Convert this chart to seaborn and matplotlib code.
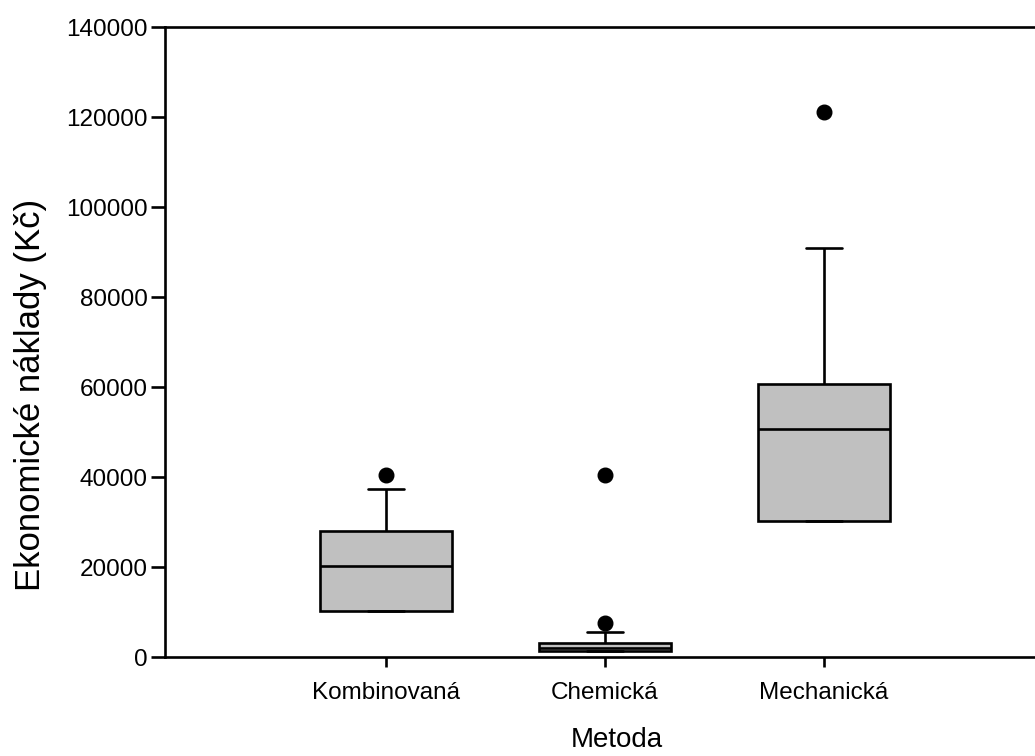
import matplotlib
matplotlib.use("Agg")
import matplotlib.pyplot as plt
import seaborn as sns
import pandas as pd

# ---- data ----
methods = ["Kombinovaná", "Chemická", "Mechanická"]
kombinovana = [10150, 10150, 10150, 15000, 20150, 24000, 28000, 37300, 40400]
chemicka = [1330, 1330, 1330, 1330, 1330, 1500, 1700, 1850, 2000,
            2200, 2500, 2800, 3040, 4000, 5630, 7480, 40400]
mechanicka = [30150, 30150, 30150, 42000, 50600, 56000, 60600, 91000, 121200]
y_ticks = [0, 20000, 40000, 60000, 80000, 100000, 120000, 140000]

values = kombinovana + chemicka + mechanicka
groups = ([methods[0]] * len(kombinovana) + [methods[1]] * len(chemicka)
          + [methods[2]] * len(mechanicka))
df = pd.DataFrame({"Metoda": groups, "Naklady": values})

sns.set_theme(style="ticks")
plt.rcParams["font.family"] = ["Liberation Sans", "DejaVu Sans"]

fig = plt.figure(figsize=(10.35, 7.56), dpi=100)
ax = fig.add_axes([165 / 1035, 1 - 657 / 756, 1 - 165 / 1035, 630 / 756])

sns.boxplot(data=df, x="Metoda", y="Naklady", order=methods, whis=(10, 90),
            width=0.6, color="#c0c0c0", saturation=1, linecolor="black",
            linewidth=1.9, fliersize=10.5,
            flierprops=dict(marker="o", markerfacecolor="black",
                            markeredgecolor="black"),
            capwidths=0.165, ax=ax)

ax.set_xlim(-1.009, 2.963)
ax.set_ylim(0, 140000)
ax.set_yticks(y_ticks)
ax.set_yticklabels([str(t) for t in y_ticks])
ax.spines["right"].set_visible(False)
for s in ["left", "bottom", "top"]:
    ax.spines[s].set_linewidth(1.9)
    ax.spines[s].set_color("black")
ax.tick_params(axis="y", length=10, width=1.9, pad=2.5, labelsize=17.5, colors="black")
ax.tick_params(axis="x", length=7, width=1.9, pad=11, labelsize=17.5, colors="black")
ax.set_xlabel("Metoda", fontsize=20, color="black")
ax.set_ylabel("Ekonomické náklady (Kč)", fontsize=25, color="black")
ax.xaxis.set_label_coords((617 - 165) / 870, -0.111)
ax.yaxis.set_label_coords((47 - 165) / 870, 1 - (395 - 27) / 630)

fig.savefig("out.png", dpi=100)
